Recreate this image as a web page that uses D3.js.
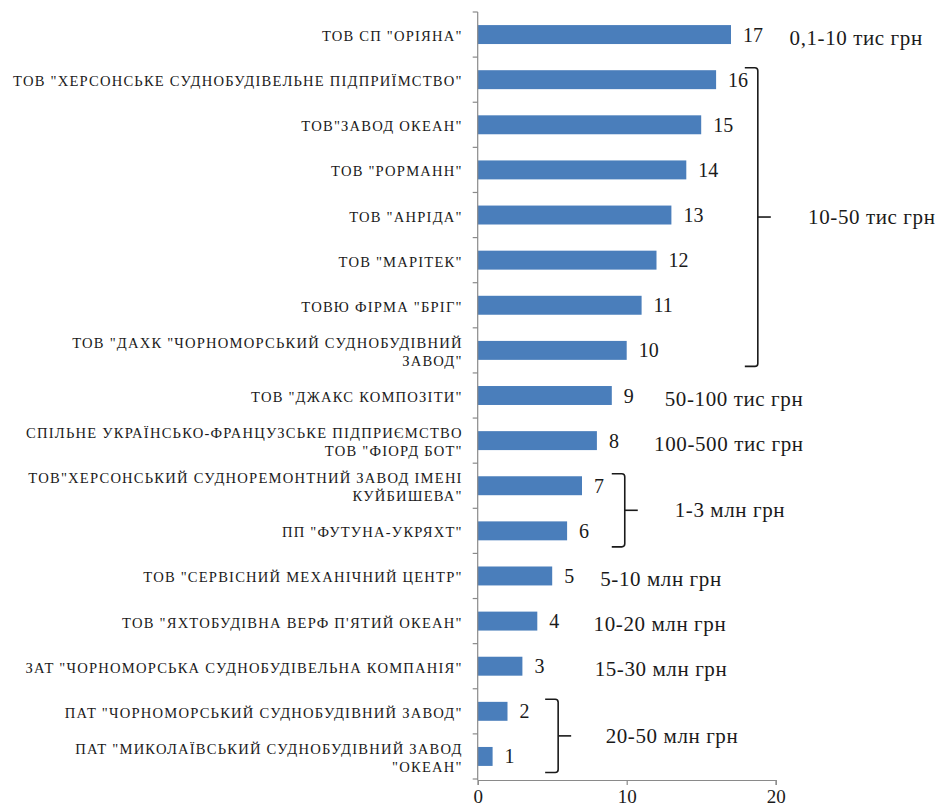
<!DOCTYPE html>
<html>
<head>
<meta charset="utf-8">
<script src="https://cdn.jsdelivr.net/npm/d3@7"></script>
<style>
  html, body { margin: 0; padding: 0; background: #fff; }
  svg { display: block; }
  svg text { font-family: 'Liberation Serif', 'Times New Roman', serif; fill: #1a1a1a; }
</style>
</head>
<body>
<script>
// ---- data ----
const categories = [
  'ТОВ СП "ОРІЯНА"',
  'ТОВ "ХЕРСОНСЬКЕ СУДНОБУДІВЕЛЬНЕ ПІДПРИЇМСТВО"',
  'ТОВ"ЗАВОД ОКЕАН"',
  'ТОВ "РОРМАНН"',
  'ТОВ "АНРІДА"',
  'ТОВ "МАРІТЕК"',
  'ТОВЮ ФІРМА "БРІГ"',
  'ТОВ "ДАХК "ЧОРНОМОРСЬКИЙ СУДНОБУДІВНИЙ\nЗАВОД"',
  'ТОВ "ДЖАКС КОМПОЗІТИ"',
  'СПІЛЬНЕ УКРАЇНСЬКО-ФРАНЦУЗСЬКЕ ПІДПРИЄМСТВО\nТОВ "ФІОРД БОТ"',
  'ТОВ"ХЕРСОНСЬКИЙ СУДНОРЕМОНТНИЙ ЗАВОД ІМЕНІ\nКУЙБИШЕВА"',
  'ПП "ФУТУНА-УКРЯХТ"',
  'ТОВ "СЕРВІСНИЙ МЕХАНІЧНИЙ ЦЕНТР"',
  'ТОВ "ЯХТОБУДІВНА ВЕРФ П\'ЯТИЙ ОКЕАН"',
  'ЗАТ "ЧОРНОМОРСЬКА СУДНОБУДІВЕЛЬНА КОМПАНІЯ"',
  'ПАТ "ЧОРНОМОРСЬКИЙ СУДНОБУДІВНИЙ ЗАВОД"',
  'ПАТ "МИКОЛАЇВСЬКИЙ СУДНОБУДІВНИЙ ЗАВОД\n"ОКЕАН"'
];
const values = [17, 16, 15, 14, 13, 12, 11, 10, 9, 8, 7, 6, 5, 4, 3, 2, 1];
const xTicks = [0, 10, 20];

const groupLabels = ["0,1-10 тис грн", "10-50 тис грн", "50-100 тис грн", "100-500 тис грн",
                     "1-3 млн грн", "5-10 млн грн", "10-20 млн грн", "15-30 млн грн", "20-50 млн грн"];
const groupFirst = [0, 1, 8, 9, 10, 12, 13, 14, 15];
const groupLast  = [0, 7, 8, 9, 11, 12, 13, 14, 16];

// ---- layout (x positions in value units, mapped through the x scale) ----
const groupLabelAt = [25.4, 26.45, 17.2, 16.86, 16.93, 12.3, 12.23, 12.3, 13.04];
const bracketAt = { 1: 18.8, 4: 9.87, 8: 5.4 };

const W = 937, H = 809;
const svg = d3.select("body").append("svg").attr("width", W).attr("height", H);
svg.append("rect").attr("width", W).attr("height", H).attr("fill", "#fff");

const x = d3.scaleLinear().domain([0, 20]).range([477.7, 775.7]);
const y = d3.scaleBand().domain(d3.range(categories.length)).range([12, 779])
  .paddingInner(0.58).paddingOuter(0.29);
const step = y.step();
const yc = i => y(i) + y.bandwidth() / 2;
const axisColor = "#8a8a8a";
const axisY = 780;

// bars
svg.append("g").selectAll("rect").data(values).join("rect")
  .attr("x", x(0))
  .attr("y", (d, i) => y(i))
  .attr("width", d => x(d) - x(0))
  .attr("height", y.bandwidth())
  .attr("fill", "#4a7ebb");

// y axis line and ticks at band boundaries
svg.append("line").attr("x1", x(0)).attr("x2", x(0)).attr("y1", 12).attr("y2", axisY)
  .attr("stroke", axisColor).attr("stroke-width", 1.2);
svg.append("g").selectAll("line").data(d3.range(categories.length + 1)).join("line")
  .attr("x1", x(0) - 5).attr("x2", x(0))
  .attr("y1", i => 12 + i * step).attr("y2", i => 12 + i * step)
  .attr("stroke", axisColor).attr("stroke-width", 1.2);

// x axis
const xAxis = svg.append("g").attr("transform", `translate(0,${axisY})`)
  .call(d3.axisBottom(x).tickValues(xTicks).tickSize(5).tickPadding(5).tickFormat(d3.format("d")));
xAxis.attr("font-family", null);
xAxis.select(".domain").attr("stroke", axisColor).attr("stroke-width", 1.2);
xAxis.selectAll(".tick line").attr("stroke", axisColor).attr("stroke-width", 1.2);
xAxis.selectAll(".tick text").attr("font-size", 19).attr("fill", "#1a1a1a");

// category labels
const lab = svg.append("g").selectAll("text").data(categories).join("text")
  .attr("text-anchor", "end")
  .attr("font-size", 14.6)
  .attr("letter-spacing", 1.2)
  .attr("y", (d, i) => yc(i) + 1.5);
lab.each(function (d) {
  const lines = d.split("\n");
  const t = d3.select(this);
  lines.forEach((ln, k) => {
    t.append("tspan").attr("x", x(0) - 15)
      .attr("dy", k === 0 ? ((-(lines.length - 1) / 2) * 18.3 + 5) : 18.3)
      .text(ln);
  });
});

// value labels
svg.append("g").selectAll("text").data(values).join("text")
  .attr("x", d => x(d) + 12)
  .attr("y", (d, i) => yc(i) + 7)
  .attr("font-size", 20)
  .text(d => d);

// brackets and group labels
const brk = svg.append("g").attr("fill", "none").attr("stroke", "#1a1a1a").attr("stroke-width", 1.6);
groupLabels.forEach((g, k) => {
  const a = groupFirst[k], b = groupLast[k];
  let ly;
  if (a !== b) {
    const bx = x(bracketAt[k]);
    const top = yc(a) - 12, bot = yc(b) + 16;
    const mid = (top + bot) / 2;
    const r = 3;
    brk.append("path").attr("d",
      `M${bx - 13},${top} L${bx - r},${top} Q${bx},${top} ${bx},${top + r} ` +
      `L${bx},${bot - r} Q${bx},${bot} ${bx - r},${bot} L${bx - 13},${bot}`);
    brk.append("path").attr("d", `M${bx},${mid} L${bx + 13},${mid}`);
    ly = mid + 7;
  } else {
    ly = yc(a) + 10;
  }
  svg.append("text")
    .attr("x", x(groupLabelAt[k]))
    .attr("y", ly)
    .attr("text-anchor", "middle")
    .attr("font-size", 21)
    .attr("letter-spacing", 0.6)
    .text(g);
});
</script>
</body>
</html>
